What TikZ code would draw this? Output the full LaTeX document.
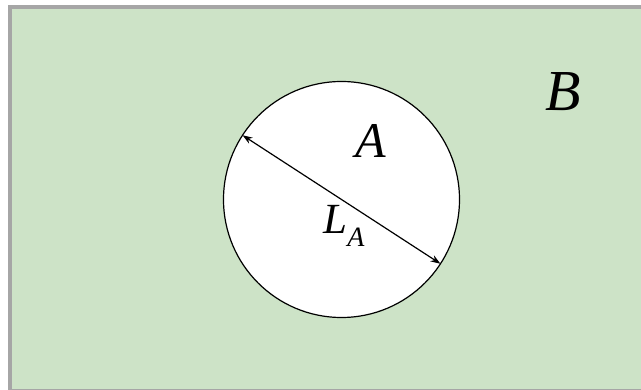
\documentclass[tikz,border=0pt]{standalone}
\usepackage{fontspec}
\setmainfont{Liberation Serif}
\usepackage{tikz}
\usepackage{xcolor}
\usetikzlibrary{arrows.meta}
\definecolor{bgreen}{HTML}{CDE3C7}
\definecolor{frame}{HTML}{A6A6A6}

\begin{document}
\begin{tikzpicture}[x=1pt,y=-1pt]
\useasboundingbox (0,0) rectangle (641,390);
\draw[line width=4pt,draw=frame,fill=bgreen] (10,7) rectangle (646,391);
\node[draw,circle,fill=white,line width=1.2pt,minimum size=236pt,inner sep=0pt,outer sep=0pt] (regA) at (341.5,199.5) {};
\node[font=\fontsize{50}{50}\selectfont\itshape] (labA) at (371,141) {A};
\node[font=\fontsize{58}{58}\selectfont\itshape] (labB) at (563,92) {B};
\node[font=\fontsize{43}{43}\selectfont\itshape] (labL) at (344,226) {L\raisebox{-0.3em}{\fontsize{28}{28}\selectfont A}};
\draw[{Stealth[length=10pt,width=7pt]}-{Stealth[length=10pt,width=7pt]},line width=1.2pt] (regA.147) -- (regA.-33.5);
\end{tikzpicture}
\end{document}
